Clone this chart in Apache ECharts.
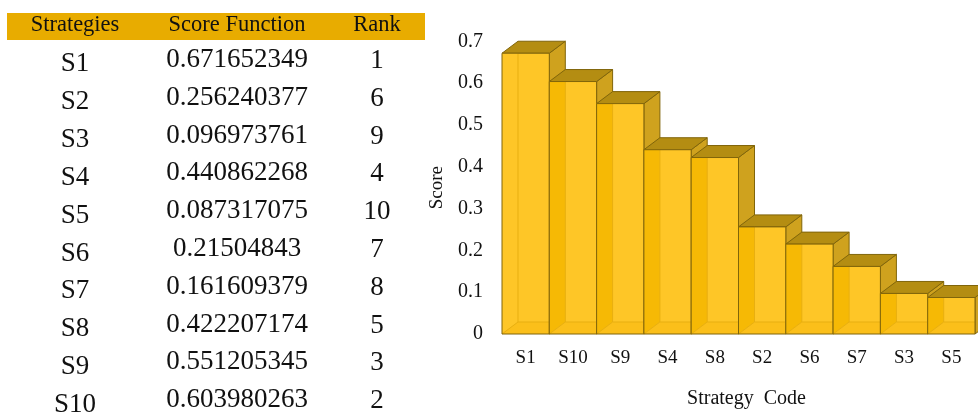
<!DOCTYPE html>
<html>
<head>
<meta charset="utf-8">
<script src="https://cdn.jsdelivr.net/npm/echarts@6/dist/echarts.min.js"></script>
<style>
  html, body { margin: 0; padding: 0; background: #fff; }
  #main { width: 978px; height: 412px; }
</style>
</head>
<body>
<div id="main"></div>
<script>
var tableHeaders = ['Strategies', 'Score Function', 'Rank'];
var strategies = ['S1', 'S2', 'S3', 'S4', 'S5', 'S6', 'S7', 'S8', 'S9', 'S10'];
var scoreTexts = ['0.671652349', '0.256240377', '0.096973761', '0.440862268', '0.087317075',
                  '0.21504843', '0.161609379', '0.422207174', '0.551205345', '0.603980263'];
var ranks = ['1', '6', '9', '4', '10', '7', '8', '5', '3', '2'];

var codes = ['S1', 'S10', 'S9', 'S4', 'S8', 'S2', 'S6', 'S7', 'S3', 'S5'];
var scores = [0.671652349, 0.603980263, 0.551205345, 0.440862268, 0.422207174,
              0.256240377, 0.21504843, 0.161609379, 0.096973761, 0.087317075];

var serif = "'Liberation Serif', 'Times New Roman', serif";
var DX = 16, DY = -12;

// table on the left, drawn as graphic text
function tableGraphics() {
    var els = [{
        type: 'rect', shape: { x: 7, y: 13, width: 418, height: 27 },
        style: { fill: '#E8AC00' }, silent: true
    }];
    var colX = [75, 237, 377];
    tableHeaders.forEach(function (h, i) {
        els.push({
            type: 'text', x: colX[i], y: 25,
            style: { text: h, fontSize: 22.5, fontFamily: serif, fill: '#111', align: 'center', verticalAlign: 'middle' }
        });
    });
    strategies.forEach(function (s, i) {
        els.push({
            type: 'text', x: colX[0], y: 64 + i * 37.9,
            style: { text: s, fontSize: 27, fontFamily: serif, fill: '#111', align: 'center', verticalAlign: 'middle' }
        });
        els.push({
            type: 'text', x: colX[1], y: 60 + i * 37.8,
            style: { text: scoreTexts[i], fontSize: 27, fontFamily: serif, fill: '#111', align: 'center', verticalAlign: 'middle' }
        });
        els.push({
            type: 'text', x: colX[2], y: 61 + i * 37.8,
            style: { text: ranks[i], fontSize: 27, fontFamily: serif, fill: '#111', align: 'center', verticalAlign: 'middle' }
        });
    });
    return els;
}

function renderBar(params, api) {
    var idx = api.value(0);
    var top = api.coord([idx, api.value(1)]);
    var base = api.coord([idx, 0]);
    var w = api.size([1, 0])[0];
    var x0 = top[0] - w / 2, x1 = top[0] + w / 2;
    var yT = top[1], yB = base[1];
    var edge = '#80650A';
    var inner = '#E8AF10';
    return {
        type: 'group',
        children: [
            { // right side
                type: 'polygon',
                shape: { points: [[x1, yT], [x1 + DX, yT + DY], [x1 + DX, yB + DY], [x1, yB]] },
                style: { fill: '#CFA21E', stroke: edge, lineWidth: 1 }
            },
            { // top
                type: 'polygon',
                shape: { points: [[x0, yT], [x0 + DX, yT + DY], [x1 + DX, yT + DY], [x1, yT]] },
                style: { fill: '#B48D12', stroke: edge, lineWidth: 1 }
            },
            { // front
                type: 'rect',
                shape: { x: x0, y: yT, width: w, height: yB - yT },
                style: { fill: '#FEC627' }
            },
            { // seen-through left strip
                type: 'polygon',
                shape: { points: [[x0, yT], [x0 + DX, yT], [x0 + DX, yB + DY], [x0, yB]] },
                style: { fill: idx > 0 ? '#F6B905' : '#FEC627' }
            },
            { // floor
                type: 'polygon',
                shape: { points: [[x0, yB], [x0 + DX, yB + DY], [x1, yB + DY], [x1, yB]] },
                style: { fill: '#FBBF1A' }
            },
            {
                type: 'polyline',
                shape: { points: [[x0 + DX, yT], [x0 + DX, yB + DY], [x1, yB + DY]] },
                style: { fill: null, stroke: inner, lineWidth: 1 }
            },
            {
                type: 'line',
                shape: { x1: x0, y1: yB, x2: x0 + DX, y2: yB + DY },
                style: { stroke: inner, lineWidth: 1 }
            },
            {
                type: 'rect',
                shape: { x: x0, y: yT, width: w, height: yB - yT },
                style: { fill: null, stroke: edge, lineWidth: 1 }
            }
        ]
    };
}

var myChart = echarts.init(document.getElementById('main'));

var option = {
    animation: false,
    backgroundColor: '#fff',
    graphic: tableGraphics(),
    grid: {
        left: 502, right: 3, top: 41.4, bottom: 78,
        containLabel: false, outerBoundsMode: 'none'
    },
    xAxis: {
        type: 'category',
        data: codes,
        name: 'Strategy  Code',
        nameLocation: 'middle',
        nameGap: 55,
        nameTextStyle: { fontFamily: serif, fontSize: 20, color: '#111', padding: [0, 0, 0, 16] },
        axisLine: { show: false },
        axisTick: { show: false },
        axisLabel: { fontFamily: serif, fontSize: 19, color: '#111', margin: 15 }
    },
    yAxis: {
        type: 'value',
        min: 0, max: 0.7, interval: 0.1,
        name: 'Score',
        nameLocation: 'middle',
        nameGap: 55,
        nameTextStyle: { fontFamily: serif, fontSize: 19, color: '#111' },
        axisLine: { show: false },
        axisTick: { show: false },
        splitLine: { show: false },
        axisLabel: { fontFamily: serif, fontSize: 20, color: '#111', margin: 19 }
    },
    series: [{
        type: 'custom',
        renderItem: renderBar,
        clip: false,
        encode: { x: 0, y: 1 },
        data: scores.map(function (v, i) { return [i, v]; })
    }]
};

myChart.setOption(option);
</script>
</body>
</html>
